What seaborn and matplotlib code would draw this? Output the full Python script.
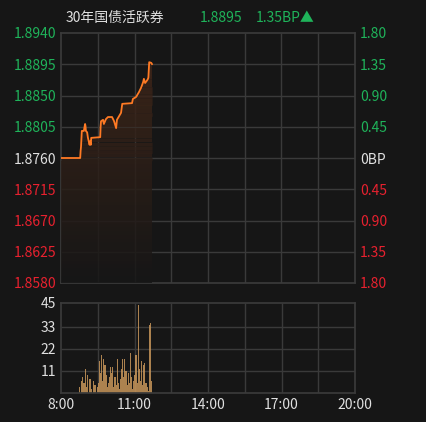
import numpy as np
import matplotlib
matplotlib.use("Agg")
import matplotlib.pyplot as plt
import seaborn as sns
from matplotlib.colors import to_rgb

sns.set_theme(style="dark")
plt.rcParams['font.family'] = ['Noto Sans CJK SC', 'DejaVu Sans']

# price path: minutes after 8:00, yield
t_min = [0, 47, 48, 49, 51, 56, 58, 59, 60, 61, 64, 66, 70, 71, 73, 74, 96, 97, 98, 103, 105, 110, 115, 125, 130, 135, 137,
         142, 147, 150, 174, 176, 184, 191, 196, 201, 203, 206, 211, 213, 214, 216, 221, 223]
price = [1.8760, 1.8760, 1.8770, 1.8776, 1.8799, 1.8799, 1.8806, 1.8809, 1.8806, 1.8799, 1.8797, 1.8789, 1.8779, 1.8784, 1.8779, 1.8789, 1.8790,
         1.8805, 1.8813, 1.8815, 1.8809, 1.8816, 1.8819, 1.8819, 1.8813, 1.8803, 1.8815,
         1.8820, 1.8825, 1.8838, 1.8839, 1.8845, 1.8848, 1.8855, 1.8861, 1.8869, 1.8874,
         1.8868, 1.8872, 1.8874, 1.8876, 1.8898, 1.8897, 1.8895]
base = 1.8760

vol_start = 44
volume = [3, 0, 6, 8, 5, 12, 3, 9, 0, 7, 7, 2, 0, 6, 4, 0, 3, 5, 16, 10, 19, 6, 17, 14, 9, 3,
          5, 8, 13, 10, 13, 3, 8, 4, 17, 5, 2, 7, 12, 17, 8, 17, 11, 4, 10, 5, 20, 8, 2, 6,
          9, 19, 5, 44, 12, 6, 16, 4, 14, 15, 5, 3, 1, 34, 35, 6]
vol_step = (223 - vol_start) / len(volume)
vol_t = [vol_start + vol_step * i for i in range(len(volume))]

left_ticks = [1.8940, 1.8895, 1.8850, 1.8805, 1.8760, 1.8715, 1.8670, 1.8625, 1.8580]
right_labels = ["1.80", "1.35", "0.90", "0.45", "0BP", "0.45", "0.90", "1.35", "1.80"]
vol_ticks = [11, 22, 33, 45]
x_ticks = [0, 180, 360, 540, 720]
x_labels = ["8:00", "11:00", "14:00", "17:00", "20:00"]

BG = "#161616"
GRID = "#3a3a3a"
GREEN = "#1fb35a"
RED = "#e8212f"
WHITE = "#e0e0e0"
LINE = "#ff7a24"
YLIM = (1.8580, 1.8940)

fig = plt.figure(figsize=(4.26, 4.22), dpi=100, facecolor=BG)
rect = [61/426, 1-283/422, 294/426, 250/422]
axbg = fig.add_axes(rect, zorder=0)
axbg.set_facecolor(BG)
axbg.set_xlim(0, 8); axbg.set_ylim(0, 8)
axbg.hlines(np.arange(1, 8), 0, 8, color=GRID, lw=1)
axbg.vlines(np.arange(1, 8), 0, 8, color=GRID, lw=1)
axbg.set_xticks([]); axbg.set_yticks([])
for s in axbg.spines.values():
    s.set_color(GRID)

ax = fig.add_axes(rect, zorder=1)
ax.patch.set_visible(False)
for s in ax.spines.values():
    s.set_visible(False)
ax.tick_params(length=0)

p = np.array(price)
c0, c1 = np.array(to_rgb(BG)), np.array(to_rgb("#402619"))
edges = np.linspace(YLIM[0], 1.8900, 61)
for lo, hi in zip(edges[:-1], edges[1:]):
    f = ((lo + hi) / 2 - YLIM[0]) / (1.8900 - YLIM[0])
    top = np.clip(p, lo, hi)
    ax.fill_between(t_min, lo, top, where=p > lo, interpolate=True,
                    color=c0 + (c1 - c0) * f, alpha=0.85, lw=0, zorder=1)
ax.plot(t_min, price, color=LINE, lw=1.3, zorder=3)
ax.set_xlim(0, 720)
ax.set_xticks(x_ticks)
ax.set_xticklabels([])
ax.set_ylim(*YLIM)
ax.set_yticks(left_ticks)
ax.set_yticklabels([f"{v:.4f}" for v in left_ticks], fontsize=10)
ax.grid(False)
for lbl, v in zip(ax.get_yticklabels(), left_ticks):
    lbl.set_color(GREEN if v > base + 1e-9 else (RED if v < base - 1e-9 else WHITE))

ax2 = ax.twinx()
ax2.patch.set_visible(False)
ax2.set_ylim(*YLIM)
ax2.set_yticks(left_ticks)
ax2.set_yticklabels(right_labels, fontsize=10)
ax2.tick_params(length=0)
ax2.grid(False)
for s in ax2.spines.values():
    s.set_visible(False)
for lbl, v in zip(ax2.get_yticklabels(), left_ticks):
    lbl.set_color(GREEN if v > base + 1e-9 else (RED if v < base - 1e-9 else WHITE))

axv = fig.add_axes([61/426, 1-393/422, 294/426, 90/422])
axv.set_facecolor(BG)
for s in axv.spines.values():
    s.set_color(GRID)
axv.tick_params(length=0)
axv.vlines(np.arange(90, 720, 90), 0, 45, color=GRID, lw=1, zorder=0.5)
axv.hlines(vol_ticks[:-1], 0, 720, color=GRID, lw=1, zorder=0.5)
axv.bar(vol_t, volume, width=vol_step, align="edge", color="#c8965a", alpha=0.85, linewidth=0, zorder=2)
axv.set_xlim(0, 720)
axv.set_xticks(x_ticks)
axv.set_xticklabels(x_labels, fontsize=10, color=WHITE)
axv.set_ylim(0, 45)
axv.set_yticks(vol_ticks)
axv.set_yticklabels([str(v) for v in vol_ticks], fontsize=10, color=WHITE)

fig.text(0.153, 1 - 18/422, "30年国债活跃券", color=WHITE, fontsize=10, va="center")
fig.text(0.47, 1 - 18/422, "1.8895", color=GREEN, fontsize=10, va="center")
fig.text(0.60, 1 - 18/422, "1.35BP▲", color=GREEN, fontsize=10, va="center")

fig.savefig("out.png", dpi=100, facecolor=BG)
